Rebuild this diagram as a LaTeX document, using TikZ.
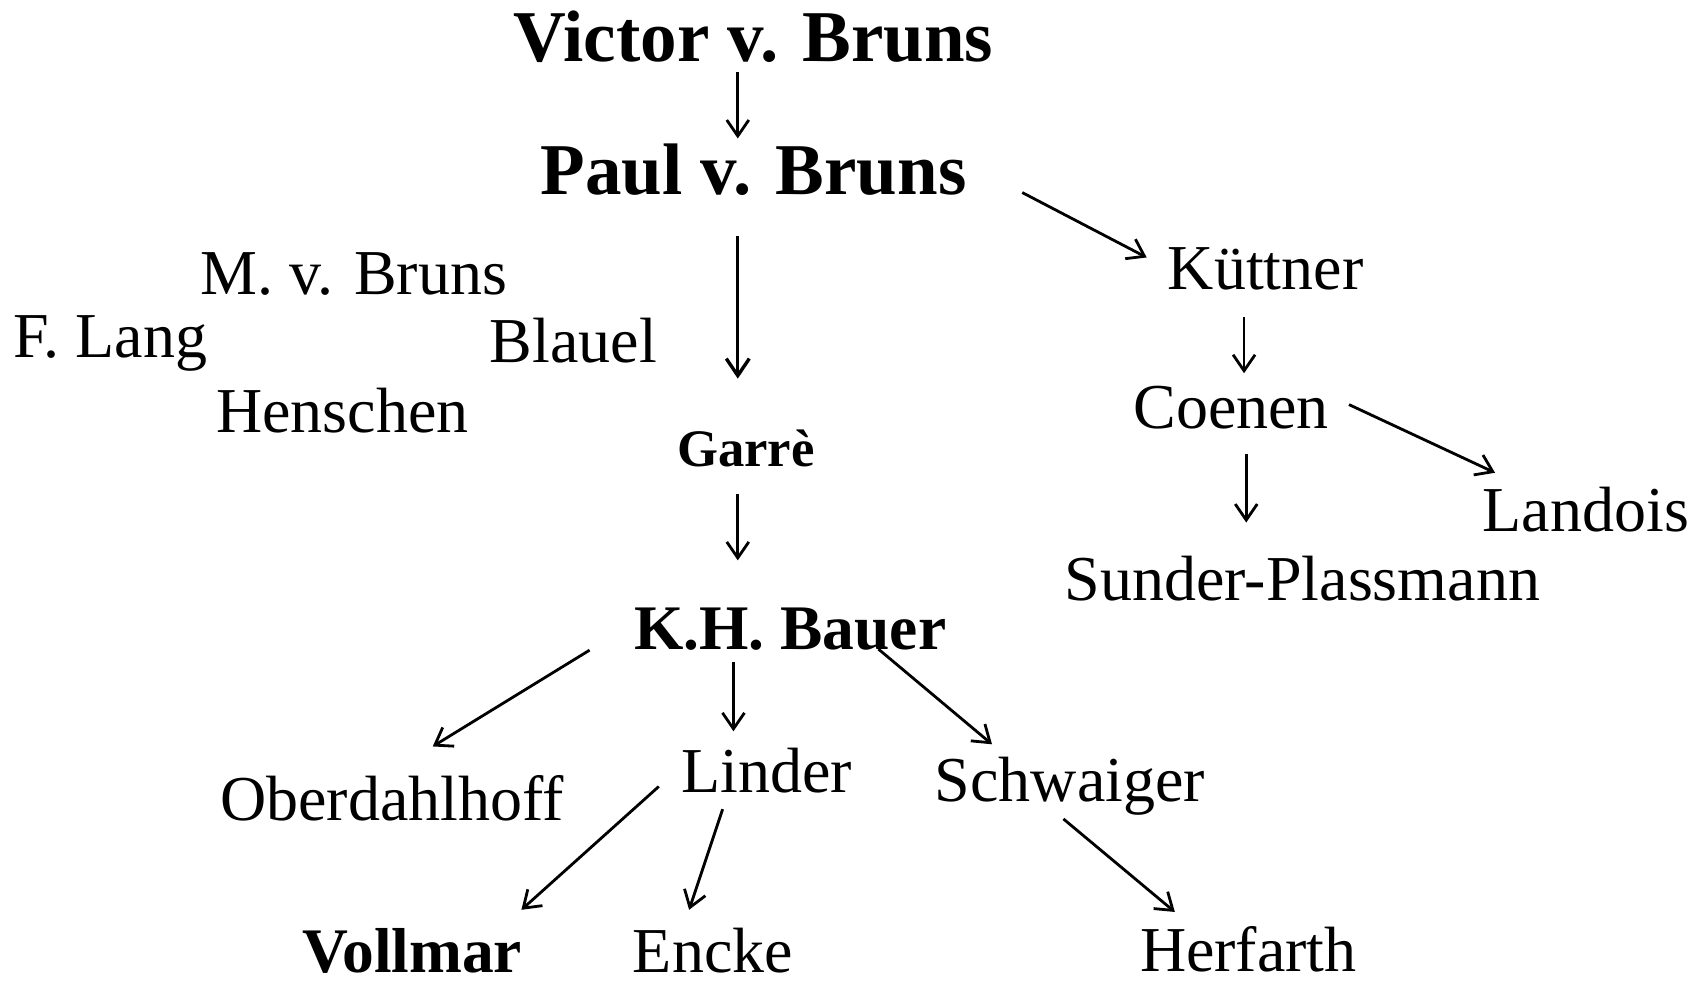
\documentclass[tikz,border=0pt]{standalone}
\usepackage{fontspec}
\setmainfont{Liberation Serif}
\usetikzlibrary{calc,arrows.meta}
\begin{document}
\begin{tikzpicture}[x=1.082pt,y=-1.082pt,
  every node/.style={inner sep=0pt,outer sep=0pt,anchor=base},
  reg/.style={font=\fontsize{64}{70}\selectfont},
  bigb/.style={font=\fontsize{73}{80}\selectfont\bfseries},
  midb/.style={font=\fontsize{63.5}{70}\selectfont\bfseries},
  smb/.style={font=\fontsize{52.7}{60}\selectfont\bfseries},
  arr/.style={line width=2.8pt,-{Straight Barb[length=16pt,width=22pt,line width=2.8pt]}},
  arrthick/.style={line width=3.4pt,-{Straight Barb[length=17pt,width=23pt,line width=3.4pt]}}]
\useasboundingbox (0,0) rectangle (1565,913);
% nodes
\node[bigb] (victor) at (696.5,57) {Victor v. Bruns};
\node[bigb] (paul) at (696.5,180) {Paul v. Bruns};
\node[reg] (mbruns) at (327,272) {M. v. Bruns};
\node[reg] (flang) at (102,330) {F. Lang};
\node[reg] (blauel) at (530,335) {Blauel};
\node[reg] (henschen) at (316.5,400) {Henschen};
\node[smb] (garre) at (689.5,431) {Garrè};
\node[midb] (bauer) at (730.5,600) {K.H. Bauer};
\node[reg] (kuttner) at (1170,268) {Küttner};
\node[reg] (coenen) at (1138,396) {Coenen};
\node[reg] (landois) at (1466,491) {Landois};
\node[reg] (sunder) at (1204,555) {Sunder-Plassmann};
\node[reg] (ober) at (362.5,758) {Oberdahlhoff};
\node[reg] (linder) at (708.5,733) {Linder};
\node[reg] (schwaiger) at (989,741) {Schwaiger};
\node[midb] (vollmar) at (381,899) {Vollmar};
\node[reg] (encke) at (659,899) {Encke};
\node[reg] (herfarth) at (1154,898) {Herfarth};
% connectors
\draw[arr] ($(victor.base)+(-14.5,10)$) -- ($(paul.base)+(-14.5,-52)$);
\draw[arrthick] ($(paul.base)+(-14.5,38)$) -- ($(garre.base)+(-7.5,-81)$);
\draw[arr] ($(paul.base)+(248.5,-2)$) -- ($(kuttner.base)+(-110,-30)$);
\draw[arr] ($(garre.base)+(-7.5,26)$) -- ($(bauer.base)+(-48.5,-82)$);
\draw[arr] ($(kuttner.base)+(-20,25)$) -- ($(coenen.base)+(12,-51)$);
\draw[arr] ($(coenen.base)+(14,24)$) -- ($(sunder.base)+(-52,-72)$);
\draw[arr] ($(coenen.base)+(109,-22)$) -- ($(landois.base)+(-84,-54)$);
\draw[arr] ($(bauer.base)+(-185.5,1)$) -- ($(ober.base)+(37.5,-68)$);
\draw[arr] ($(bauer.base)+(-52.5,12)$) -- ($(linder.base)+(-30.5,-57)$);
\draw[arr] ($(bauer.base)+(81.5,0)$) -- ($(schwaiger.base)+(-72,-53)$);
\draw[arr] ($(linder.base)+(-99.5,-6)$) -- ($(vollmar.base)+(101,-58)$);
\draw[arr] ($(linder.base)+(-40.5,15)$) -- ($(encke.base)+(-22,-58)$);
\draw[arr] ($(schwaiger.base)+(-6,16)$) -- ($(herfarth.base)+(-68,-55)$);
\end{tikzpicture}
\end{document}
